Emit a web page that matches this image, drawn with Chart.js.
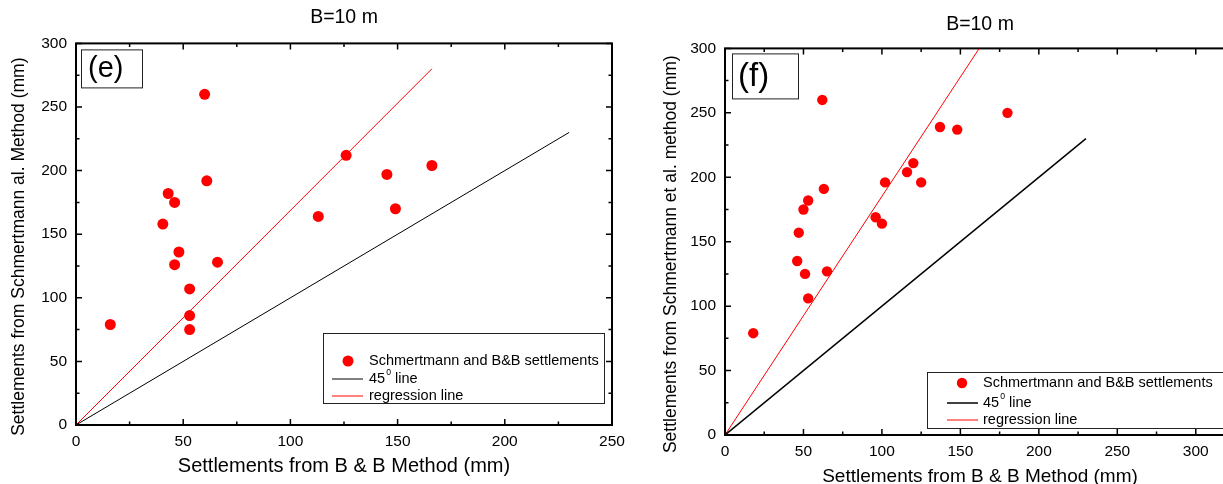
<!DOCTYPE html>
<html>
<head>
<meta charset="utf-8">
<script src="https://cdn.jsdelivr.net/npm/chart.js@4.4.1/dist/chart.umd.min.js"></script>
<style>
  html, body { margin: 0; padding: 0; background: #fff; overflow: hidden; }
  body { width: 1223px; height: 484px; position: relative; }
  canvas { position: absolute; top: 0; }
  #chartE { left: 0; }
  #chartF { left: 640px; }
</style>
</head>
<body>
<canvas id="chartE" width="640" height="484"></canvas>
<canvas id="chartF" width="620" height="500"></canvas>
<script>
// --- panel (e): B & B vs Schmertmann settlements, B = 10 m ---
const eBB   = [16, 60, 61, 43, 46, 40.5, 48, 46, 66, 53, 53, 53, 126, 145, 166, 149, 113];
const eSchm = [79, 260, 192, 182, 175, 158, 136, 126, 128, 107, 86, 75, 212, 197, 204, 170, 164];
const eRegX = [0, 166];
const eRegY = [0, 280];

// --- panel (f) ---
const fBB   = [18, 62, 63, 53, 50, 47, 46, 51, 65, 53, 96, 100, 102, 116, 120, 125, 137, 148, 180];
const fSchm = [79, 260, 191, 182, 175, 157, 135, 125, 127, 106, 169, 164, 196, 204, 211, 196, 239, 237, 250];
const fRegX = [0, 162];
const fRegY = [0, 300];

// 45 degree reference line, same for both panels
const diagX = [0, 230];
const diagY = [0, 230];

const FONT = "'Liberation Sans', Arial, sans-serif";

const pairs = (xs, ys) => xs.map((x, i) => ({ x: x, y: ys[i] }));

// frame + inward ticks on all four sides (major every 50, minor every 25)
const frameTicks = {
    id: 'frameTicks',
    beforeDatasetsDraw(chart) {
        const { ctx, chartArea: a, scales: { x, y } } = chart;
        ctx.save();
        ctx.strokeStyle = '#000';
        ctx.lineWidth = 1.5;
        ctx.beginPath();
        for (let v = x.min; v <= x.max; v += 25) {
            const px = x.getPixelForValue(v);
            const len = v % 50 === 0 ? 6 : 3.5;
            ctx.moveTo(px, a.bottom); ctx.lineTo(px, a.bottom - len);
            ctx.moveTo(px, a.top); ctx.lineTo(px, a.top + len);
        }
        for (let v = y.min; v <= y.max; v += 25) {
            const py = y.getPixelForValue(v);
            const len = v % 50 === 0 ? 6 : 3.5;
            ctx.moveTo(a.left, py); ctx.lineTo(a.left + len, py);
            ctx.moveTo(a.right, py); ctx.lineTo(a.right - len, py);
        }
        ctx.stroke();
        ctx.lineWidth = 2;
        ctx.strokeRect(a.left, a.top, a.right - a.left, a.bottom - a.top);
        ctx.restore();
    }
};

// rotated y-axis title, sits a little below the middle of the axis
const yTitle = {
    id: 'yTitle',
    afterDraw(chart, args, o) {
        const { ctx, chartArea: a } = chart;
        ctx.save();
        ctx.translate(o.x, (a.top + a.bottom) / 2 + o.shift);
        ctx.rotate(-Math.PI / 2);
        ctx.fillStyle = '#000';
        ctx.font = o.size + 'px ' + FONT;
        ctx.textAlign = 'center';
        ctx.textBaseline = 'middle';
        ctx.fillText(o.text, 0, 0);
        ctx.restore();
    }
};

// boxed legend in the lower right corner + the boxed panel letter
const boxLegend = {
    id: 'boxLegend',
    afterDatasetsDraw(chart, args, o) {
        const { ctx, chartArea: a } = chart;
        ctx.save();

        // panel letter
        const p = o.panel;
        const bx = a.left + p.dx, by = a.top + p.dy;
        ctx.fillStyle = '#fff';
        ctx.fillRect(bx, by, p.w, p.h);
        ctx.strokeStyle = '#222';
        ctx.lineWidth = 1;
        ctx.strokeRect(bx + 0.5, by + 0.5, p.w, p.h);
        ctx.fillStyle = '#000';
        ctx.font = p.size + 'px ' + FONT;
        ctx.textBaseline = 'middle';
        ctx.fillText(p.text, bx + p.tx, by + p.h / 2 + 1);

        // legend
        const L = o.legend;
        const left = a.right - L.right - L.width;
        const top = a.bottom - L.bottom - L.height;
        ctx.fillStyle = '#fff';
        ctx.fillRect(left, top, L.width, L.height);
        ctx.strokeRect(left + 0.5, top + 0.5, L.width, L.height);
        ctx.font = L.size + 'px ' + FONT;
        chart.data.datasets.forEach((ds, i) => {
            const ry = top + L.rows[i];
            if (ds.showLine) {
                ctx.strokeStyle = ds.borderColor;
                ctx.lineWidth = ds.borderWidth;
                ctx.beginPath();
                ctx.moveTo(left + L.lineFrom, ry);
                ctx.lineTo(left + L.lineTo, ry);
                ctx.stroke();
            } else {
                ctx.fillStyle = ds.backgroundColor;
                ctx.beginPath();
                ctx.arc(left + L.marker, ry, ds.pointRadius, 0, Math.PI * 2);
                ctx.fill();
            }
            ctx.fillStyle = '#000';
            ctx.textBaseline = 'middle';
            let tx = left + L.text;
            const parts = ds.label.split('⁰');
            ctx.fillText(parts[0], tx, ry);
            if (parts.length > 1) {
                tx += ctx.measureText(parts[0]).width + 1;
                ctx.font = (L.size * 0.6) + 'px ' + FONT;
                ctx.fillText('0', tx, ry - 6);
                tx += ctx.measureText('0').width;
                ctx.font = L.size + 'px ' + FONT;
                ctx.fillText(parts[1], tx, ry);
            }
        });
        ctx.restore();
    }
};

function makeChart(id, cfg) {
    return new Chart(document.getElementById(id), {
        type: 'scatter',
        data: {
            datasets: [
                {
                    label: 'Schmertmann and B&B settlements',
                    data: pairs(cfg.bb, cfg.schm),
                    backgroundColor: '#ff0000',
                    borderWidth: 0,
                    pointRadius: cfg.radius
                },
                {
                    label: '45⁰ line',
                    data: pairs(diagX, diagY),
                    showLine: true,
                    borderColor: '#000',
                    borderWidth: cfg.diagWidth,
                    pointRadius: 0
                },
                {
                    label: 'regression line',
                    data: pairs(cfg.regX, cfg.regY),
                    showLine: true,
                    borderColor: '#ff0000',
                    borderWidth: 1,
                    pointRadius: 0
                }
            ]
        },
        options: {
            responsive: false,
            animation: false,
            layout: { padding: { left: 0, right: cfg.padRight, top: 0, bottom: 0 } },
            plugins: {
                legend: { display: false },
                tooltip: { enabled: false },
                title: {
                    display: true,
                    text: 'B=10 m',
                    fullSize: false,
                    color: '#000',
                    font: { family: FONT, size: 19.5, weight: 'normal' },
                    padding: cfg.titlePad
                },
                yTitle: { text: cfg.yTitle, x: cfg.yTitleX, shift: 12.5, size: 17.5 },
                boxLegend: { panel: cfg.panel, legend: cfg.legend }
            },
            scales: {
                x: {
                    type: 'linear',
                    min: 0, max: cfg.xMax,
                    grid: { display: false, drawTicks: false },
                    border: { display: false },
                    ticks: { stepSize: 50, includeBounds: false, autoSkip: false,
                             color: '#000', padding: 7, maxRotation: 0,
                             font: { family: FONT, size: 15.5 } },
                    title: { display: true, text: 'Settlements from B & B Method (mm)', color: '#000',
                             font: { family: FONT, size: cfg.xTitleSize }, padding: { top: 0, bottom: cfg.xTitlePad } },
                    afterFit(s) { s.height = cfg.xHeight; }
                },
                y: {
                    type: 'linear',
                    min: 0, max: 300,
                    grid: { display: false, drawTicks: false },
                    border: { display: false },
                    ticks: { stepSize: 50, color: '#000', padding: 9,
                             font: { family: FONT, size: 15.5 } },
                    afterFit(s) { s.width = cfg.yWidth; }
                }
            }
        },
        plugins: [frameTicks, boxLegend, yTitle]
    });
}

document.addEventListener('DOMContentLoaded', () => {
    makeChart('chartE', {
        bb: eBB, schm: eSchm, regX: eRegX, regY: eRegY,
        xMax: 250, radius: 5.5, diagWidth: 1,
        padRight: 28, yWidth: 76, xHeight: 59,
        titlePad: { top: 6, bottom: 14 },
        xTitleSize: 20, xTitlePad: 6, yTitleX: 19,
        yTitle: 'Settlements from Schmertmann al. Method (mm)',
        panel: { text: '(e)', dx: 5, dy: 6, w: 61, h: 38, tx: 7, size: 29 },
        legend: { width: 281, height: 70, right: 8, bottom: 22,
                  rows: [28, 46, 63], marker: 25, lineFrom: 9, lineTo: 40, text: 46, size: 14.5 }
    });
    makeChart('chartF', {
        bb: fBB, schm: fSchm, regX: fRegX, regY: fRegY,
        xMax: 325, radius: 5.2, diagWidth: 1.5,
        padRight: 25, yWidth: 85, xHeight: 65,
        titlePad: { top: 13, bottom: 12 },
        xTitleSize: 19, xTitlePad: 11.5, yTitleX: 31,
        yTitle: 'Settlements from Schmertmann et al. method (mm)',
        panel: { text: '(f)', dx: 7, dy: 5, w: 66, h: 45, tx: 6, size: 33 },
        legend: { width: 300, height: 56, right: 8, bottom: 7,
                  rows: [11, 31, 48], marker: 35, lineFrom: 20, lineTo: 51, text: 56, size: 14.5 }
    });
});
</script>
</body>
</html>
